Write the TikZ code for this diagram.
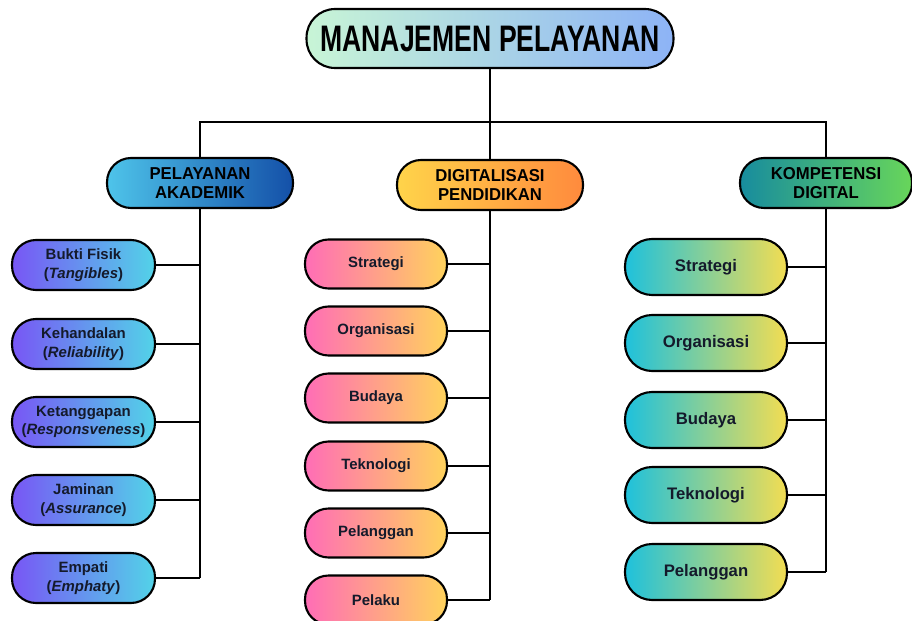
\documentclass[tikz,border=0pt]{standalone}
\usepackage{fontspec}
\setmainfont{Liberation Sans}
\newfontfamily\titlefont[FakeStretch=0.72]{Liberation Sans}
\newfontfamily\headfont[FakeStretch=0.97]{Liberation Sans}
\definecolor{mintL}{HTML}{C8F5D6}
\definecolor{skyR}{HTML}{8DB3F6}
\definecolor{akaL}{HTML}{4EC4EA}
\definecolor{akaR}{HTML}{1450A8}
\definecolor{digL}{HTML}{FFD44A}
\definecolor{digR}{HTML}{FF8A3D}
\definecolor{komL}{HTML}{178C9E}
\definecolor{komR}{HTML}{68D65A}
\definecolor{violetL}{HTML}{7856F5}
\definecolor{cyanR}{HTML}{52D3E8}
\definecolor{pinkL}{HTML}{FF6DB6}
\definecolor{amberR}{HTML}{FFD35C}
\definecolor{tealL}{HTML}{1EC1DC}
\definecolor{yellowR}{HTML}{F3DD52}
\definecolor{ink}{HTML}{141A2B}
\tikzset{
  box/.style={draw=black, line width=1.2pt, align=center, inner sep=0pt, text=ink},
  topbox/.style={box, minimum width=7.34cm, minimum height=1.18cm, rounded corners=0.57cm,
    left color=mintL, right color=skyR, text=black, font=\titlefont\bfseries\fontsize{21}{24}\selectfont},
  headbox/.style={box, minimum width=3.72cm, minimum height=1.0cm, rounded corners=0.48cm,
    text=black, font=\headfont\bfseries\fontsize{9.8}{10.8}\selectfont},
  akabox/.style={headbox, left color=akaL, right color=akaR},
  digbox/.style={headbox, left color=digL, right color=digR},
  kombox/.style={headbox, minimum width=3.44cm, left color=komL, right color=komR},
  leftbox/.style={box, minimum width=2.86cm, minimum height=1.0cm, rounded corners=0.48cm,
    left color=violetL, right color=cyanR, font=\bfseries\fontsize{8.5}{10.5}\selectfont},
  midbox/.style={box, minimum width=2.84cm, minimum height=0.98cm, rounded corners=0.47cm,
    left color=pinkL, right color=amberR, font=\bfseries\fontsize{8.5}{10.5}\selectfont},
  rightbox/.style={box, minimum width=3.24cm, minimum height=1.12cm, rounded corners=0.54cm,
    left color=tealL, right color=yellowR, font=\bfseries\fontsize{9.5}{11}\selectfont},
}
\begin{document}
\begin{tikzpicture}[x=0.02cm,y=-0.02cm]
  \useasboundingbox (0,0) rectangle (912,621);
  \node[topbox] (mp) at (490,38.5) {MANAJEMEN PELAYANAN};
  \node[akabox] (pa) at (200,183) {PELAYANAN\\AKADEMIK};
  \node[digbox] (dp) at (490,185) {DIGITALISASI\\PENDIDIKAN};
  \node[kombox] (kd) at (826,183) {KOMPETENSI\\DIGITAL};
  \coordinate (bus) at (490,122);

  \node[leftbox] (bf) at (83.5,265) {Bukti Fisik\\(\textit{Tangibles})};
  \node[leftbox] (kh) at (83.5,344) {Kehandalan\\(\textit{Reliability})};
  \node[leftbox] (kt) at (83.5,422) {Ketanggapan\\(\textit{Responsveness})};
  \node[leftbox] (jm) at (83.5,500) {Jaminan\\(\textit{Assurance})};
  \node[leftbox] (ep) at (83.5,578) {Empati\\(\textit{Emphaty})};

  \node[midbox] (ds) at (376,264) {Strategi};
  \node[midbox] (do) at (376,331) {Organisasi};
  \node[midbox] (db) at (376,398) {Budaya};
  \node[midbox] (dt) at (376,466) {Teknologi};
  \node[midbox] (dg) at (376,533) {Pelanggan};
  \node[midbox] (dk) at (376,600) {Pelaku};

  \node[rightbox] (ks) at (706,267) {Strategi};
  \node[rightbox] (ko) at (706,343) {Organisasi};
  \node[rightbox] (kb) at (706,420) {Budaya};
  \node[rightbox] (kt2) at (706,495) {Teknologi};
  \node[rightbox] (kg) at (706,572) {Pelanggan};

  \begin{scope}[line width=1pt]
    \draw (mp) -- (bus);
    \draw (pa.north) |- (bus) -| (kd.north);
    \draw (dp.north) -- (bus);
    \draw (pa.south) -- (pa.south |- ep.east);
    \draw (bf.east) -- (bf.east -| pa.south);
    \draw (kh.east) -- (kh.east -| pa.south);
    \draw (kt.east) -- (kt.east -| pa.south);
    \draw (jm.east) -- (jm.east -| pa.south);
    \draw (ep.east) -- (ep.east -| pa.south);
    \draw (dp.south) -- (dp.south |- dk.east);
    \draw (ds.east) -- (ds.east -| dp.south);
    \draw (do.east) -- (do.east -| dp.south);
    \draw (db.east) -- (db.east -| dp.south);
    \draw (dt.east) -- (dt.east -| dp.south);
    \draw (dg.east) -- (dg.east -| dp.south);
    \draw (dk.east) -- (dk.east -| dp.south);
    \draw (kd.south) -- (kd.south |- kg.east);
    \draw (ks.east) -- (ks.east -| kd.south);
    \draw (ko.east) -- (ko.east -| kd.south);
    \draw (kb.east) -- (kb.east -| kd.south);
    \draw (kt2.east) -- (kt2.east -| kd.south);
    \draw (kg.east) -- (kg.east -| kd.south);
  \end{scope}
\end{tikzpicture}
\end{document}
